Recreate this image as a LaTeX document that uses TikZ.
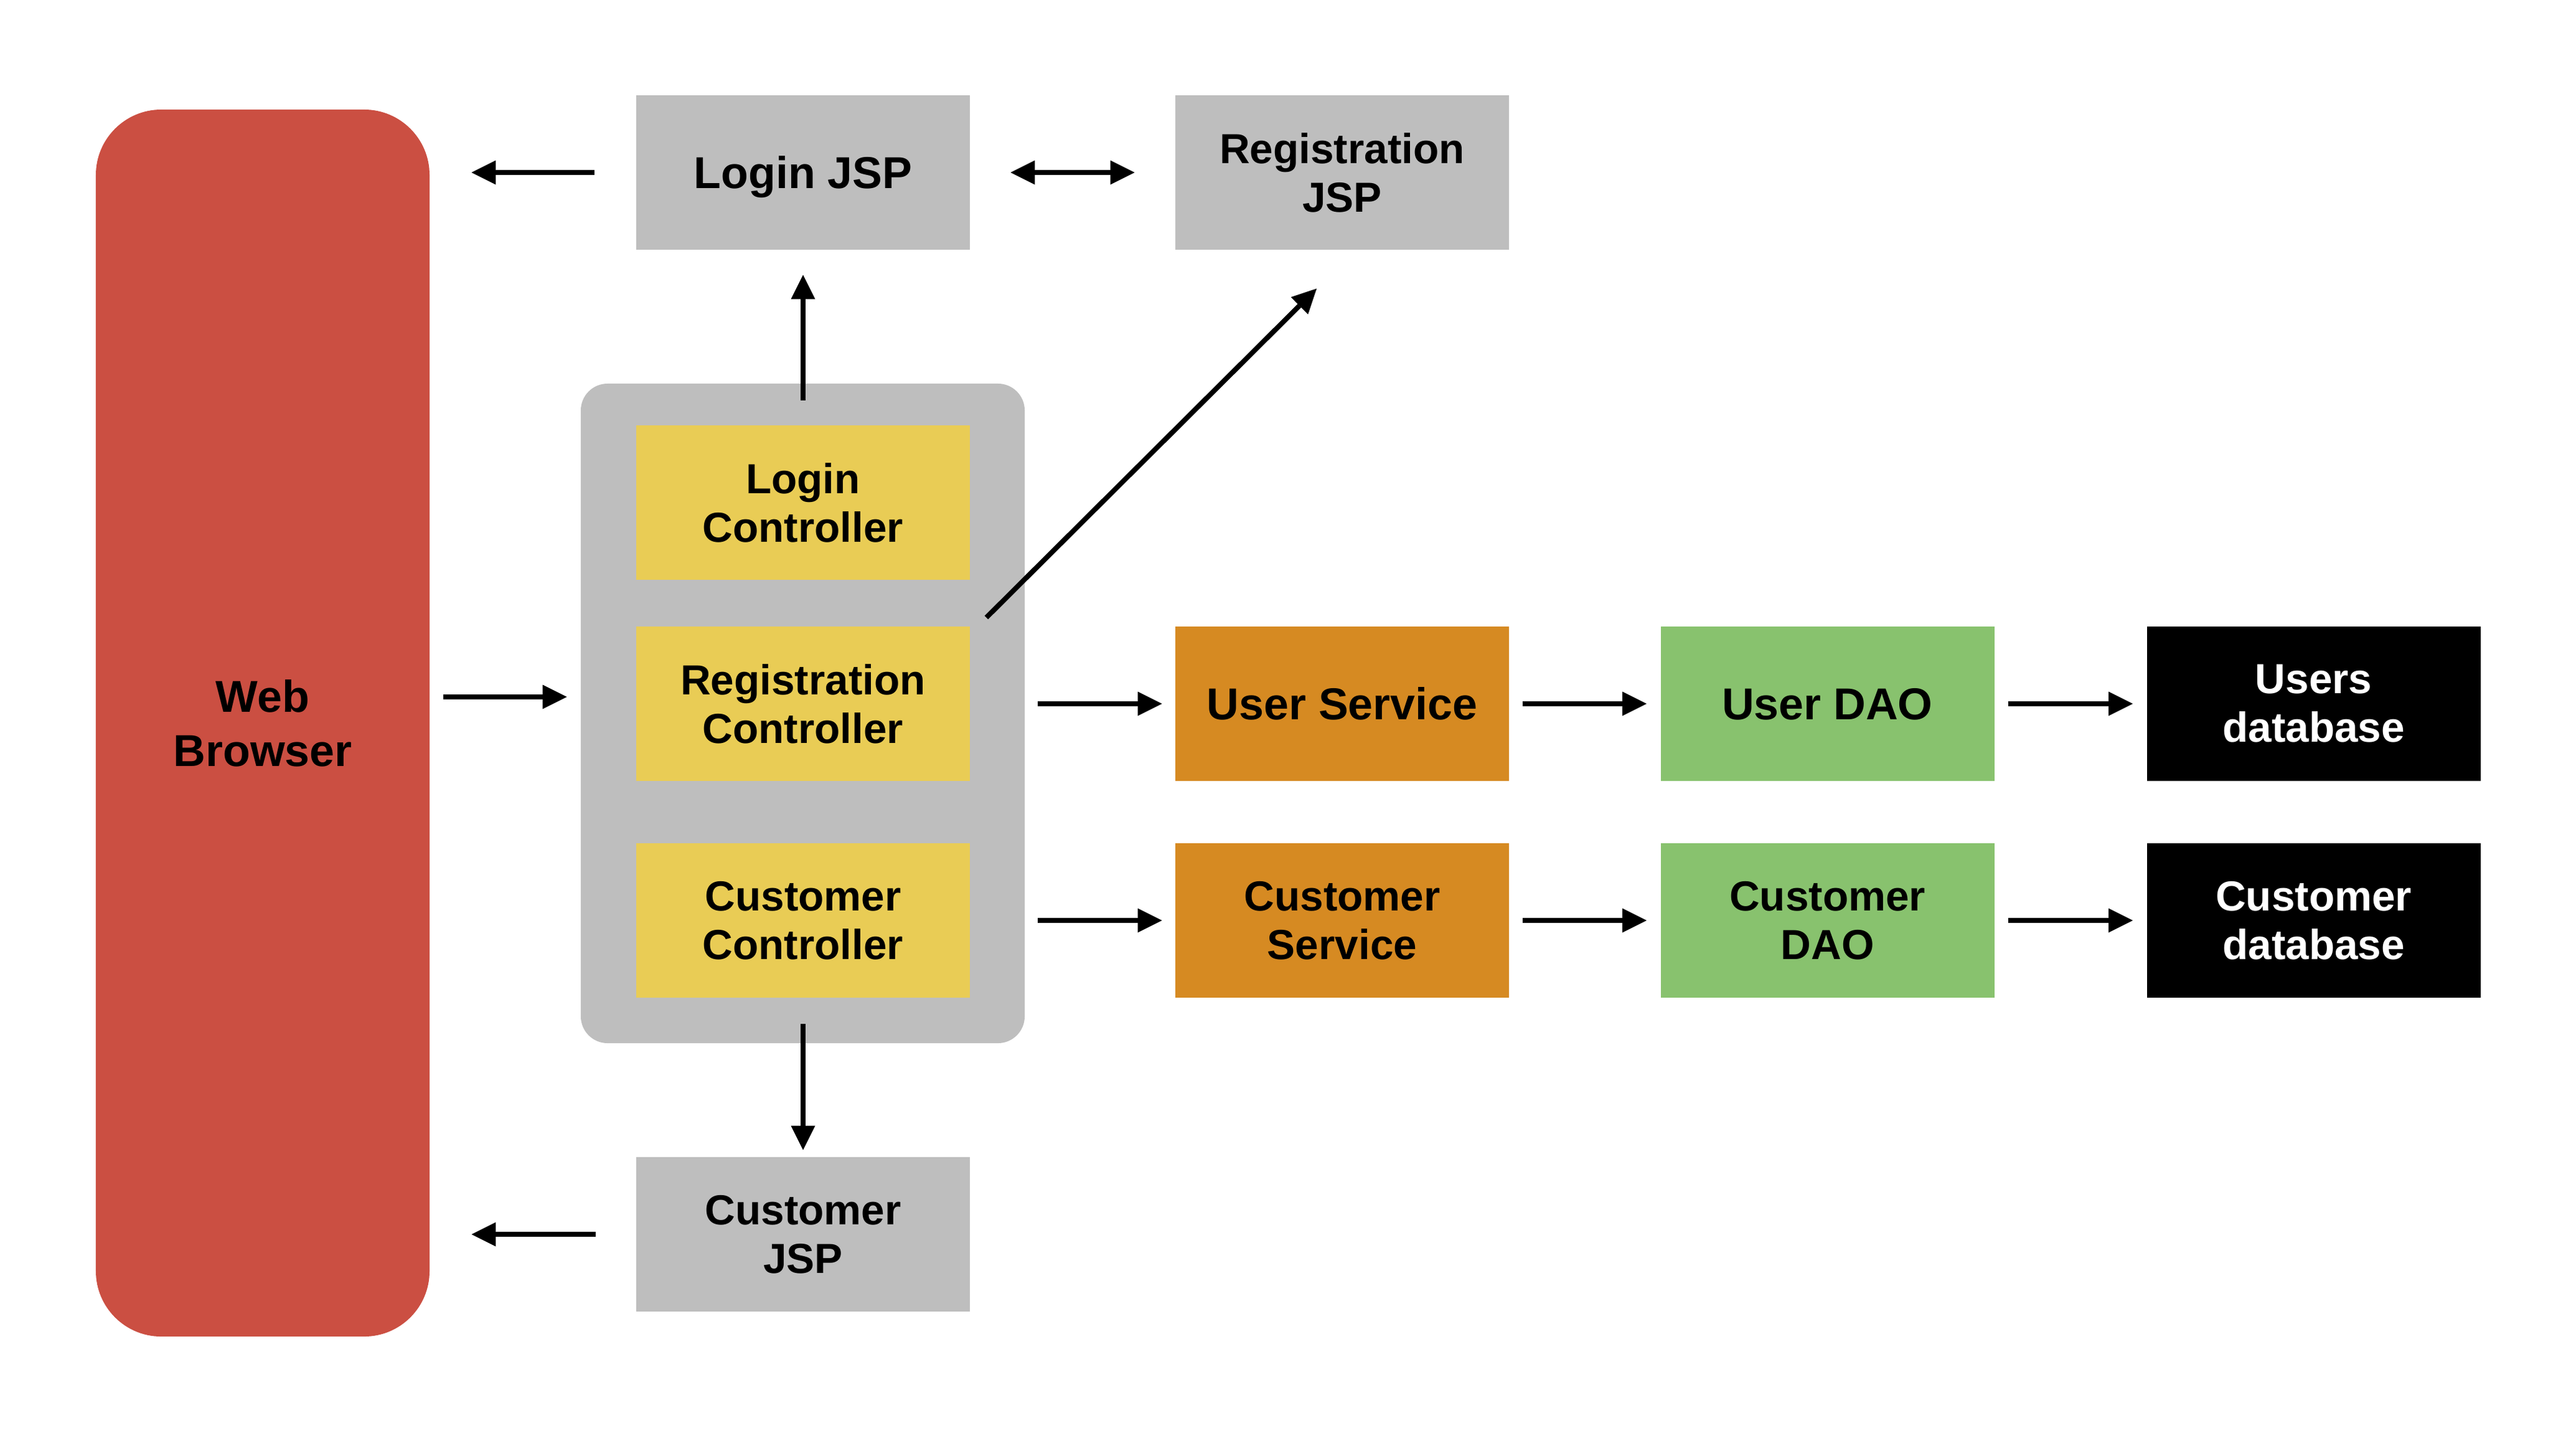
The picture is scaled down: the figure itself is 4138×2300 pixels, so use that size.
\documentclass[tikz,border=0pt]{standalone}
\usepackage{fontspec}
\setmainfont{Liberation Sans}
\usepackage{tikz}
\usetikzlibrary{arrows.meta, positioning, calc}
\definecolor{browserred}{RGB}{203,79,66}
\definecolor{jspgray}{RGB}{190,190,190}
\definecolor{ctrlyellow}{RGB}{233,204,85}
\definecolor{svcorange}{RGB}{214,138,34}
\definecolor{daogreen}{RGB}{136,194,110}

\begin{document}
\begin{tikzpicture}[
    x=0.05mm, y=-0.05mm,
    >={Triangle[length=1.95mm, width=1.95mm, line width=0pt]},
    box/.style={minimum width=26.8mm, minimum height=12.4mm, inner sep=0pt, align=center, font=\fontsize{9.6}{11.1}\selectfont\bfseries},
    bigtext/.style={font=\fontsize{10.2}{11.1}\selectfont\bfseries, text depth=0pt},
    arrow/.style={->, line width=0.4mm}
]
    \useasboundingbox (0,0) rectangle (4138,2300);

    % Browser and controller group
    \node[box, minimum height=98.5mm, rounded corners=5.25mm, fill=browserred, font=\fontsize{10.2}{12.4}\selectfont\bfseries] (browser) at (422,1161) {Web\\Browser};
    \node[fill=jspgray, rounded corners=2.15mm, minimum width=35.65mm, minimum height=52.95mm, inner sep=0pt] (ctrlgroup) at (1289.5,1145.5) {};

    % Views
    \node[box, bigtext, fill=jspgray] (loginjsp) at (1290,277) {Login JSP};
    \node[box, fill=jspgray] (regjsp) at (2156,277) {Registration\\JSP};
    \node[box, fill=jspgray] (custjsp) at (1290,1982) {Customer\\JSP};

    % Controllers
    \node[box, fill=ctrlyellow] (loginctl) at (1290,807) {Login\\Controller};
    \node[box, fill=ctrlyellow] (regctl) at (1290,1130) {Registration\\Controller};
    \node[box, fill=ctrlyellow] (custctl) at (1290,1478) {Customer\\Controller};

    % Services, DAOs, databases
    \node[box, bigtext, fill=svcorange] (usersvc) at (2156,1130) {User Service};
    \node[box, bigtext, fill=daogreen] (userdao) at (2935.5,1130) {User DAO};
    \node[box, fill=black, text=white] (userdb) at (3716.5,1130) {Users\\database};
    \node[box, fill=svcorange] (custsvc) at (2156,1478) {Customer\\Service};
    \node[box, fill=daogreen] (custdao) at (2935.5,1478) {Customer\\DAO};
    \node[box, fill=black, text=white] (custdb) at (3716.5,1478) {Customer\\database};

    % Arrows
    \coordinate (webout) at ([yshift=2.1mm]browser.east);
    \draw[arrow, shorten <=1.05mm, shorten >=1.05mm] (webout) -- (webout -| ctrlgroup.west);
    \draw[arrow, shorten <=3.3mm, shorten >=3.3mm] (loginjsp.west) -- (loginjsp.west -| browser.east);
    \draw[arrow, <->, shorten <=3.2mm, shorten >=3.2mm] (loginjsp) -- (regjsp);
    \draw[arrow, shorten <=1.95mm, shorten >=1.95mm] (loginctl) -- (loginjsp);
    \draw[arrow] ([shift={(25,-13)}]regctl.north east) -- ([shift={(-41,61)}]regjsp.south);
    \draw[arrow, shorten <=1mm, shorten >=1mm] (usersvc -| ctrlgroup.east) -- (usersvc);
    \draw[arrow, shorten <=1.05mm, shorten >=1.05mm] (usersvc) -- (userdao);
    \draw[arrow, shorten <=1.05mm, shorten >=1.05mm] (userdao) -- (userdb);
    \draw[arrow, shorten <=1mm, shorten >=1mm] (custsvc -| ctrlgroup.east) -- (custsvc);
    \draw[arrow, shorten <=1.05mm, shorten >=1.05mm] (custsvc) -- (custdao);
    \draw[arrow, shorten <=1.05mm, shorten >=1.05mm] (custdao) -- (custdb);
    \draw[arrow, shorten <=2.05mm, shorten >=0.5mm] (custctl) -- (custjsp);
    \draw[arrow, shorten <=3.2mm, shorten >=3.3mm] (custjsp.west) -- (custjsp.west -| browser.east);
\end{tikzpicture}
\end{document}
